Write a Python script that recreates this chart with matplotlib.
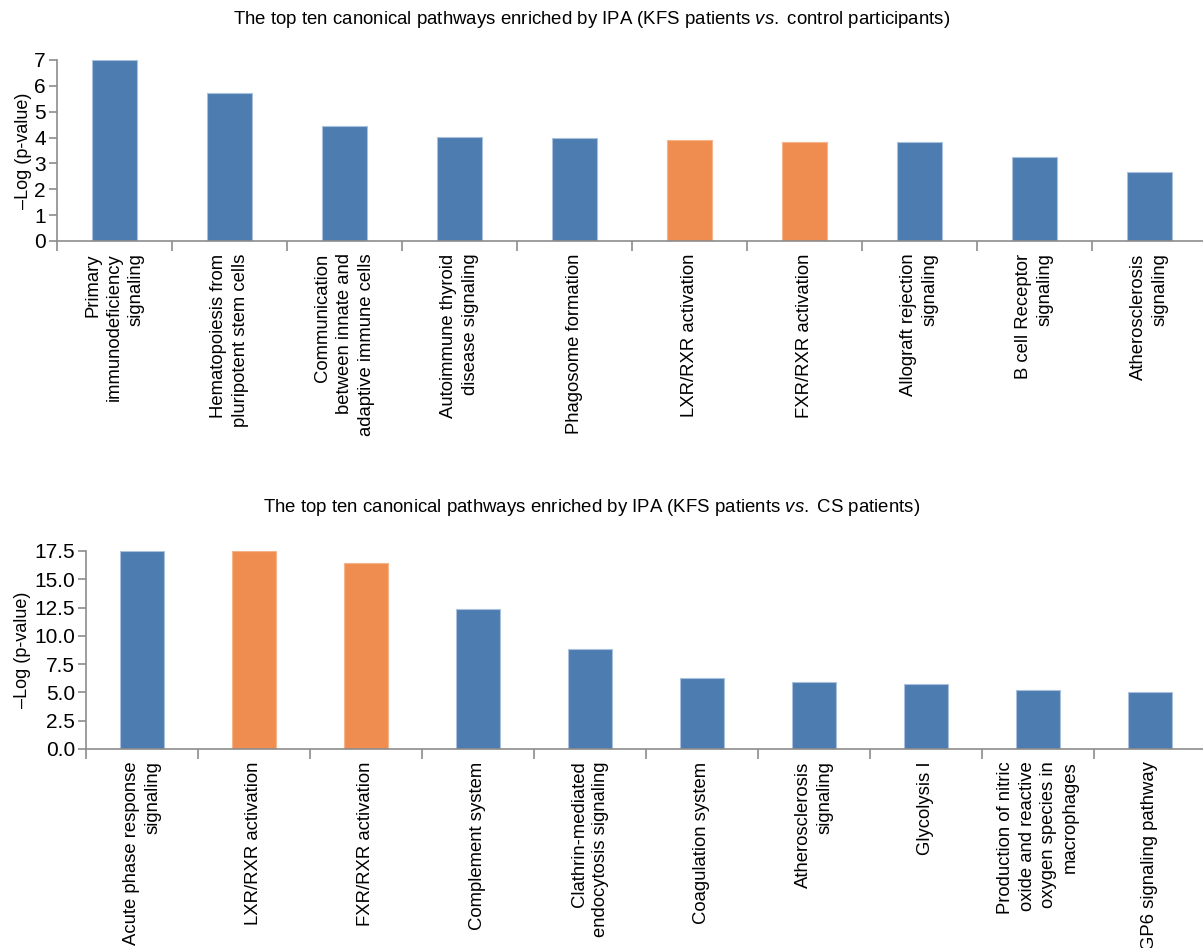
import matplotlib.pyplot as plt
import numpy as np

plt.rcParams['font.family'] = ['Liberation Sans', 'DejaVu Sans']
plt.rcParams['mathtext.fontset'] = 'custom'
plt.rcParams['mathtext.rm'] = 'Liberation Sans'
plt.rcParams['mathtext.it'] = 'Liberation Sans:italic'

# верхній графік (KFS vs control)
top_labels = [
    "Primary\nimmunodeficiency\nsignaling",
    "Hematopoiesis from\npluripotent stem cells",
    "Communication\nbetween innate and\nadaptive immune cells",
    "Autoimmune thyroid\ndisease signaling",
    "Phagosome formation",
    "LXR/RXR activation",
    "FXR/RXR activation",
    "Allograft rejection\nsignaling",
    "B cell Receptor\nsignaling",
    "Atherosclerosis\nsignaling",
]
top_values = [7.0, 5.72, 4.46, 4.02, 4.0, 3.9, 3.84, 3.84, 3.25, 2.67]
top_orange = [5, 6]

# нижній графік (KFS vs CS)
bot_labels = [
    "Acute phase response\nsignaling",
    "LXR/RXR activation",
    "FXR/RXR activation",
    "Complement system",
    "Clathrin-mediated\nendocytosis signaling",
    "Coagulation system",
    "Atherosclerosis\nsignaling",
    "Glycolysis I",
    "Production of nitric\noxide and reactive\noxygen species in\nmacrophages",
    "GP6 signaling pathway",
]
bot_values = [17.5, 17.5, 16.45, 12.38, 8.84, 6.28, 5.92, 5.72, 5.24, 5.07]
bot_orange = [1, 2]

BLUE = '#4d7cb0'
ORANGE = '#ef8d50'
GRID = '#8c8c8c'


def draw(ax, labels, values, orange, ymax, yticks, yfmt, width):
    x = np.arange(len(values))
    colors = [ORANGE if i in orange else BLUE for i in x]
    edges = ['#f5b48a' if i in orange else '#a9c1dc' for i in x]
    ax.bar(x, values, width=width, color=colors, edgecolor=edges, linewidth=0.8, zorder=2)
    ax.set_xlim(-0.5, len(values) - 0.5)
    ax.set_ylim(0, ymax)
    ax.set_yticks(yticks)
    ax.set_yticklabels([yfmt.format(v) for v in yticks], fontsize=15)
    ax.set_xticks(x)
    ax.set_xticklabels(labels, rotation=90, fontsize=13.3, ha='center', va='top',
                       multialignment='right')
    ax.set_xticks(np.arange(len(values) + 1) - 0.5, minor=True)
    ax.tick_params(axis='x', which='major', length=0, pad=9)
    ax.tick_params(axis='x', which='minor', length=7, color=GRID, width=1.2)
    ax.tick_params(axis='y', length=6, color=GRID, width=1.2, pad=2)
    for s in ['top', 'right']:
        ax.spines[s].set_visible(False)
    for s in ['left', 'bottom']:
        ax.spines[s].set_color(GRID)
        ax.spines[s].set_linewidth(1.2)
    ax.set_ylabel('\u2013Log (p-value)', fontsize=13)
    for lbl in ax.get_xticklabels():
        lbl.set_linespacing(1.35)


fig = plt.figure(figsize=(12.03, 9.48), dpi=100)

ax1 = fig.add_axes([57 / 1203, 1 - 241 / 948, 1150 / 1203, 181 / 948])
draw(ax1, top_labels, top_values, top_orange, 7, list(range(8)), '{:.0f}', 0.39)
ax1.yaxis.set_label_coords(-0.022, 0.5)

ax2 = fig.add_axes([86 / 1203, 1 - 749 / 948, 1120 / 1203, 198 / 948])
draw(ax2, bot_labels, bot_values, bot_orange, 17.5, [0, 2.5, 5, 7.5, 10, 12.5, 15, 17.5], '{:.1f}', 0.40)
ax2.yaxis.set_label_coords(-0.049, 0.5)

fig.text(0.492, 1 - 20 / 948,
         r'The top ten canonical pathways enriched by IPA (KFS patients $\it{vs.}$ control participants)',
         ha='center', va='center', fontsize=13.4)
fig.text(0.492, 1 - 507 / 948,
         r'The top ten canonical pathways enriched by IPA (KFS patients $\it{vs.}$ CS patients)',
         ha='center', va='center', fontsize=13.4)

fig.savefig('out.png', dpi=100)
